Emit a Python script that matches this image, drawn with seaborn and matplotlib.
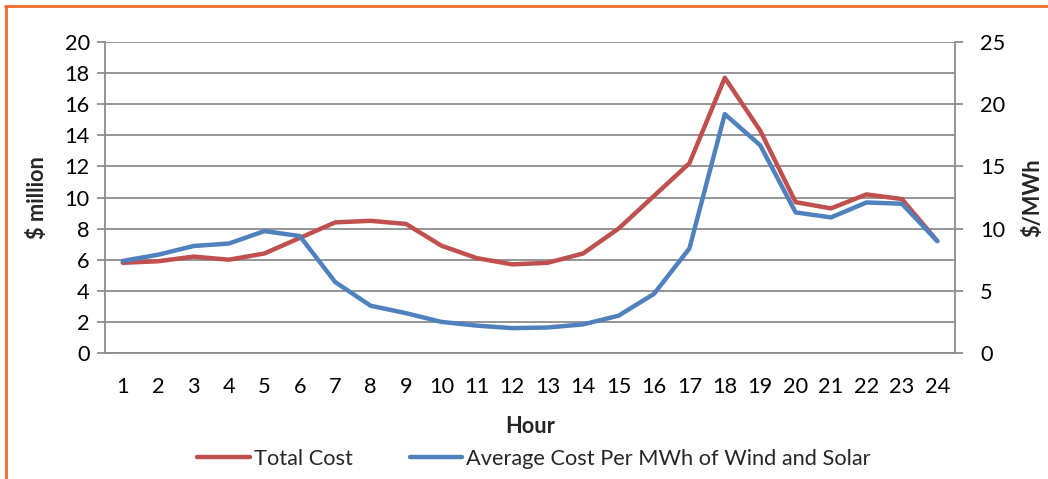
import matplotlib
matplotlib.use("Agg")
import matplotlib.pyplot as plt
import seaborn as sns
import pandas as pd
import numpy as np
from matplotlib.lines import Line2D

hours = list(range(1, 25))
total_cost = [5.8, 5.9, 6.2, 6.0, 6.4, 7.4, 8.4, 8.5, 8.3, 6.9, 6.1, 5.7,
              5.8, 6.4, 8.0, 10.1, 12.2, 17.7, 14.3, 9.7, 9.3, 10.2, 9.9, 7.2]
avg_cost = [7.4, 7.9, 8.6, 8.8, 9.8, 9.4, 5.7, 3.8, 3.2, 2.5, 2.2, 2.0,
            2.05, 2.3, 3.0, 4.75, 8.4, 19.2, 16.7, 11.3, 10.9, 12.1, 12.0, 9.0]
left_ticks = [0, 2, 4, 6, 8, 10, 12, 14, 16, 18, 20]
right_ticks = [0, 5, 10, 15, 20, 25]

df = pd.DataFrame({"Hour": hours, "Total Cost": total_cost,
                   "Average Cost Per MWh of Wind and Solar": avg_cost})

sns.set_theme(style="white")
plt.rcParams['font.family'] = ['Lato', 'DejaVu Sans']

RED = "#C0504D"
BLUE = "#4F81BD"
GRID = "#8C8C8C"
FS = 15.7

fig = plt.figure(figsize=(10.48, 4.79), dpi=100)
ax = fig.add_axes([105/1048, 1-353/479, 850/1048, 311/479])
ax2 = ax.twinx()

sns.lineplot(data=df, x="Hour", y="Total Cost", ax=ax, color=RED, linewidth=3.2,
             zorder=5)
sns.lineplot(data=df, x="Hour", y="Average Cost Per MWh of Wind and Solar", ax=ax2,
             color=BLUE, linewidth=3.2, zorder=4)

ax.set_xlim(0.5, 24.5)
ax.set_ylim(0, 20)
ax2.set_ylim(0, 25)
ax.set_yticks(left_ticks)
ax2.set_yticks(right_ticks)
ax.set_xticks(hours)
ax.set_xticks(np.arange(0.5, 25, 1), minor=True)

ax.yaxis.grid(True, color=GRID, linewidth=1.3)
ax2.grid(False)
ax.xaxis.grid(False)

for a in (ax, ax2):
    for s in a.spines.values():
        s.set_visible(False)
ax.spines['left'].set_visible(True)
ax.spines['bottom'].set_visible(True)
ax2.spines['right'].set_visible(True)
for s in (ax.spines['left'], ax.spines['bottom'], ax2.spines['right']):
    s.set_color(GRID)
    s.set_linewidth(1.3)

ax.tick_params(axis='x', which='major', length=0, pad=17, labelsize=FS, labelcolor='black')
ax.tick_params(axis='x', which='minor', length=5, width=1.3, color=GRID, direction='out')
ax.tick_params(axis='y', length=6, width=1.3, color=GRID, direction='out', pad=5,
               labelsize=FS, labelcolor='black', left=True)
ax2.tick_params(axis='y', length=6, width=1.3, color=GRID, direction='out', pad=12,
                labelsize=FS, labelcolor='black', right=True)

ax.set_xlabel("Hour", fontsize=FS, fontweight='bold', labelpad=14)
ax.set_ylabel("$ million", fontsize=FS, fontweight='bold', labelpad=12)
ax2.set_ylabel("$/MWh", fontsize=FS, fontweight='bold', labelpad=12)

handles = [Line2D([0], [0], color=RED, linewidth=3.2),
           Line2D([0], [0], color=BLUE, linewidth=3.2)]
fig.legend(handles, ["Total Cost", "Average Cost Per MWh of Wind and Solar"],
           loc='center', bbox_to_anchor=(534/1048, 1-459/479), ncol=2, frameon=False,
           fontsize=FS, handlelength=2.4, handletextpad=0.2, columnspacing=2.6)

ORANGE = "#F26A2E"
fig.add_artist(Line2D([5/1048, 1], [1-6/479, 1-6/479], color=ORANGE, linewidth=2,
                      transform=fig.transFigure))
fig.add_artist(Line2D([6/1048, 6/1048], [0, 1-6/479], color=ORANGE, linewidth=2,
                      transform=fig.transFigure))

fig.savefig("out.png", dpi=100)
